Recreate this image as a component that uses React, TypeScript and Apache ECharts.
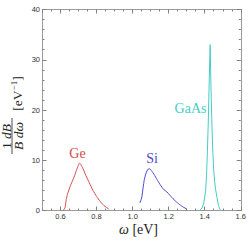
import React, { useEffect, useRef } from "react";
import * as echarts from "echarts";

const geData: [number, number][] = [
  [0.615, 0], [0.625, 0.6], [0.632, 2.2], [0.638, 3.2], [0.645, 3.9], [0.652, 4.7],
  [0.665, 5.8], [0.678, 6.9], [0.688, 8.0], [0.697, 8.8], [0.705, 9.4], [0.712, 9.2],
  [0.725, 8.3], [0.74, 7.0], [0.76, 5.5], [0.78, 4.0], [0.8, 2.8], [0.82, 1.8],
  [0.84, 1.0], [0.855, 0.6], [0.868, 0.3],
];
const siData: [number, number][] = [
  [1.04, 1.5], [1.05, 2.5], [1.058, 4.5], [1.065, 6.2], [1.075, 7.5], [1.085, 8.2],
  [1.095, 8.3], [1.105, 7.9], [1.12, 7.1], [1.135, 6.2], [1.15, 5.3], [1.165, 4.5],
  [1.175, 4.1], [1.19, 3.7], [1.205, 3.1], [1.22, 2.5], [1.24, 1.8], [1.26, 1.2],
  [1.28, 0.7], [1.3, 0.3],
];
const gaasData: [number, number][] = [
  [1.372, 0], [1.385, 0.5], [1.395, 1.5], [1.405, 4.0], [1.41, 7], [1.415, 12],
  [1.42, 18], [1.425, 26], [1.43, 33], [1.435, 24], [1.44, 17], [1.445, 11.5],
  [1.45, 8], [1.455, 5.8], [1.46, 4.2], [1.468, 2.6], [1.476, 1.0], [1.485, 0.2], [1.49, 0],
];
const seriesNames = ["Ge", "Si", "GaAs"];
const seriesColors = ["#d44a48", "#4b4bcf", "#45cdc5"];
const xRange = [0.5, 1.6];
const yRange = [0, 40];

const FRAME = "#9a9a9a";
const TICK = "#808080";

export default function App() {
  const ref = useRef<HTMLDivElement>(null);
  useEffect(() => {
    if (!ref.current) return;
    const chart = echarts.init(ref.current, undefined, { renderer: "svg" });
    const serif = "'Liberation Serif', 'DejaVu Serif', serif";
    const sans = "'Liberation Sans', Arial, sans-serif";
    const major = (pos: "bottom" | "top", labels: boolean) => ({
      type: "value",
      min: xRange[0],
      max: xRange[1],
      position: pos,
      axisLine: { show: true, onZero: false, lineStyle: { color: FRAME, width: 1 } },
      axisTick: { show: true, inside: true, length: 4, lineStyle: { color: TICK, width: 1 } },
      axisLabel: {
        show: labels,
        showMinLabel: false,
        color: "#333",
        fontSize: 7.5,
        fontFamily: sans,
        margin: 2,
        formatter: (v: number) => v.toFixed(1),
      },
      splitLine: { show: false },
    });
    const minor = (pos: "bottom" | "top") => ({
      type: "value",
      min: xRange[0],
      max: xRange[1],
      interval: 0.05,
      position: pos,
      axisLine: { show: false, onZero: false },
      axisTick: { show: true, inside: true, length: 2, lineStyle: { color: TICK, width: 1 } },
      axisLabel: { show: false },
      splitLine: { show: false },
    });
    const yAx = (pos: "left" | "right", labels: boolean) => ({
      type: "value",
      min: yRange[0],
      max: yRange[1],
      interval: 10,
      position: pos,
      axisLine: { show: true, onZero: false, lineStyle: { color: FRAME, width: 1 } },
      axisTick: { show: true, inside: true, length: 4, lineStyle: { color: TICK, width: 1 } },
      minorTick: { show: true, splitNumber: 5, length: 2, lineStyle: { color: TICK, width: 1 } },
      axisLabel: { show: labels, color: "#333", fontSize: 7.5, fontFamily: sans, margin: 2.5 },
      splitLine: { show: false },
    });
    const datasets = [geData, siData, gaasData];
    chart.setOption({
      animation: false,
      backgroundColor: "#fff",
      grid: { left: 42.5, right: 6.5, top: 9.5, bottom: 30.5 },
      xAxis: [major("bottom", true), minor("bottom"), major("top", false), minor("top")],
      yAxis: [yAx("left", true), yAx("right", false)],
      series: datasets.map((d, i) => ({
        type: "line",
        name: seriesNames[i],
        data: d,
        xAxisIndex: 0,
        yAxisIndex: 0,
        showSymbol: false,
        smooth: i === 2 ? false : 0.2,
        lineStyle: { color: seriesColors[i], width: 1 },
        z: 3,
      })),
      graphic: [
        {
          type: "text", x: 77.5, y: 153,
          style: { text: seriesNames[0], fill: seriesColors[0], font: `14px ${serif}`, align: "center", verticalAlign: "middle" },
        },
        {
          type: "text", x: 152, y: 158,
          style: { text: seriesNames[1], fill: seriesColors[1], font: `14px ${serif}`, align: "center", verticalAlign: "middle" },
        },
        {
          type: "text", x: 190.5, y: 108,
          style: { text: seriesNames[2], fill: seriesColors[2], font: `14px ${serif}`, align: "center", verticalAlign: "middle" },
        },
        {
          type: "text", x: 138.5, y: 229.5,
          style: {
            text: "{i|ω} [eV]", fill: "#222", font: `14px ${serif}`, align: "center", verticalAlign: "middle",
            rich: { i: { font: `italic 14px ${serif}`, fill: "#222" } },
          },
        },
        {
          type: "text", x: 6, y: 136.5, rotation: Math.PI / 2,
          style: {
            text: "1 {i|dB}", fill: "#222", font: `13.5px ${serif}`, align: "center", verticalAlign: "middle",
            rich: { i: { font: `italic 13.5px ${serif}`, fill: "#222" } },
          },
        },
        {
          type: "line",
          shape: { x1: 12, y1: 118, x2: 12, y2: 154 },
          style: { stroke: "#222", lineWidth: 0.8 },
        },
        {
          type: "text", x: 18, y: 136, rotation: Math.PI / 2,
          style: {
            text: "{i|B dω}", fill: "#222", font: `13.5px ${serif}`, align: "center", verticalAlign: "middle",
            rich: { i: { font: `italic 13.5px ${serif}`, fill: "#222" } },
          },
        },
        {
          type: "text", x: 17, y: 93.5, rotation: Math.PI / 2,
          style: {
            text: "[eV{s|−1}]", fill: "#222", font: `13.5px ${serif}`, align: "center", verticalAlign: "middle",
            rich: { s: { font: `9px ${serif}`, fill: "#222", verticalAlign: "top", padding: [0, 0, 7, 0] } },
          },
        },
      ],
    });
    return () => chart.dispose();
  }, []);
  return (
    <div
      ref={ref}
      style={{ position: "fixed", left: 0, top: 0, width: 249, height: 241, background: "#fff" }}
    />
  );
}
